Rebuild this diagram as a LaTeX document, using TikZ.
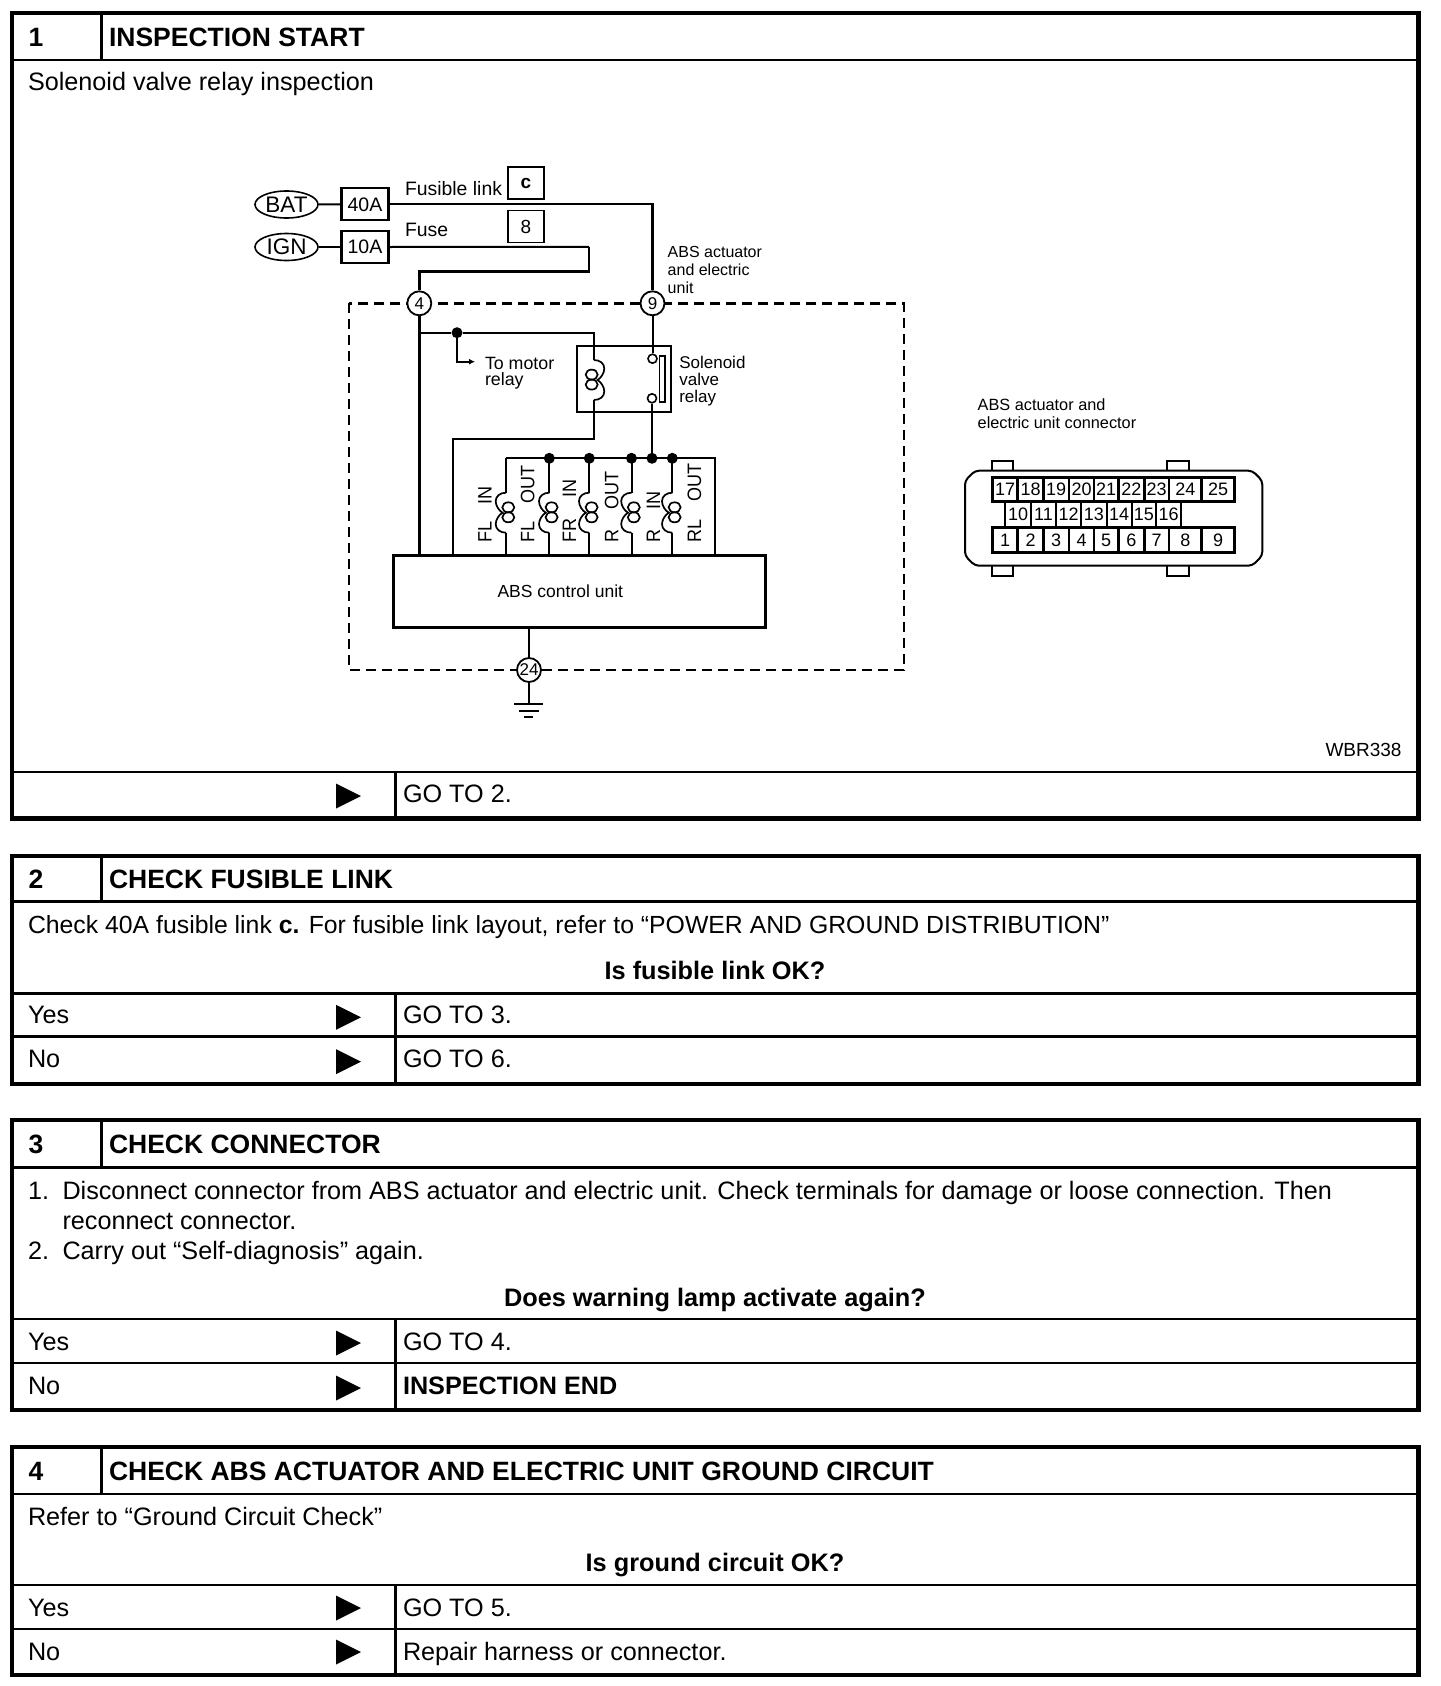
\documentclass[tikz,border=0pt]{standalone}
\usepackage{fontspec}
\setmainfont{Liberation Sans}
\usetikzlibrary{shapes.geometric,arrows.meta}
\newcommand\fs[1]{\fontsize{#1}{#1}\selectfont}
\newcommand\fsl[2]{\fontsize{#1}{#2}\selectfont}
\newcommand\vtxt[1]{\scalebox{1}[1.08]{#1}}
\tikzset{
  txt/.style={anchor=base west,inner sep=0pt,outer sep=0pt,font=\fs{25.2}},
  hd/.style={anchor=base west,inner sep=0pt,outer sep=0pt,font=\fs{26.5}\bfseries},
  ctr/.style={anchor=base,inner sep=0pt,outer sep=0pt,font=\fs{25.3}\bfseries},
  lab/.style={anchor=north west,inner sep=0pt,outer sep=0pt,align=left},
  vlab/.style={rotate=90,anchor=base west,inner sep=0pt,outer sep=0pt,font=\fs{18}},
  frameline/.style={line width=4.2pt,draw=black},
  rule/.style={line width=2.5pt,draw=black},
  wire/.style={line width=2pt,draw=black},
  fatwire/.style={line width=2.8pt,draw=black},
  term/.style={circle,draw,fill=white,line width=1.8pt,minimum size=24pt,inner sep=0pt,font=\fs{17}},
  pinhole/.style={circle,draw,fill=white,line width=1.6pt,minimum size=9pt,inner sep=0pt},
  src/.style={ellipse,draw,line width=1.6pt,minimum width=63pt,minimum height=27pt,inner sep=0pt,font=\fs{22.5}},
  fuse/.style={rectangle,draw,line width=2.2pt,minimum width=47pt,minimum height=32pt,inner sep=0pt,font=\fs{19.5}},
  tag/.style={rectangle,draw,line width=1.8pt,minimum width=36pt,minimum height=32pt,inner sep=0pt,font=\fs{19}},
  jn/.style={circle,fill=black,minimum size=11pt,inner sep=0pt},
  bound/.style={line width=2.4pt,draw=black,dash pattern=on 10pt off 6pt},
}
\newcommand\card[7]{% key, top, titleline, bottom, number, title, baseline
  \draw[frameline] (12,#2) rectangle (1418.5,#4);
  \draw[rule] (14,#3) -- (1416.5,#3);
  \draw[line width=3pt] (101.3,#2) -- (101.3,#3);
  \node[hd] (num#1) at (28.5,#7) {#5};
  \node[hd] (title#1) at (109,#7) {#6};
}
\newcommand\goline[2]{% y, bottom
  \draw[rule] (14,#1) -- (1416.5,#1);
  \draw[rule] (395.3,#1) -- (395.3,#2);
}
\newcommand\choice[5]{% key, label, baseline, arrow centre y, target
  \node[txt] (lab#1) at (28,#3) {#2};
  \fill (336,#4-12.5) -- (361,#4) -- (336,#4+12.5) -- cycle;
  \node[txt] (go#1) at (403,#3) {#5};
}
\newcommand\coil[3]{%
  \begin{scope}[shift={(#1,#2)},xscale=#3]
  \draw[line width=1.7pt] (0,0) .. controls (6,0) and (10.3,3.5) .. (10.3,8.5) .. controls (10.3,13) and (7,18) .. (3.5,20) .. controls (7,22) and (10.3,27) .. (10.3,31.5) .. controls (10.3,36.5) and (6,40) .. (0,40);
  \draw[line width=1.7pt] (-2.3,14.6) ellipse [x radius=6,y radius=5];
  \draw[line width=1.7pt] (-2.3,24.6) ellipse [x radius=6,y radius=5];
  \end{scope}}
\begin{document}
\begin{tikzpicture}[x=1pt,y=-1pt]
\useasboundingbox (0,0) rectangle (1440,1686);
\fill[white] (0,0) rectangle (1440,1686);

% ---------- card 1
\card{a}{13}{60}{818.5}{1}{INSPECTION START}{47}
\node[txt] (ta) at (28,90) {Solenoid valve relay inspection};
\goline{772}{817}
\choice{a}{}{802}{796}{GO TO 2.}
\node[txt,font=\fs{19}] (wbr) at (1325.5,756.5) {WBR338};

% ---------- schematic
\draw[bound] (349,303.3) rectangle (904,670);
\node[src] (bat) at (286.5,204.5) {BAT};
\node[src] (ign) at (286.5,247) {IGN};
\node[fuse] (f40) at (365,204.3) {40A};
\node[fuse,line width=2.6pt] (f10) at (365,247) {10A};
\node[tag] (tc) at (526,183) {\raisebox{-1.5pt}{\textbf{c}}};
\node[tag] (t8) at (526,226.5) {8};
\node[txt,font=\fs{19.4}] (lfl) at (405,195) {Fusible link};
\node[txt,font=\fs{19.4}] (lfu) at (405,236) {Fuse};
\node[lab,font=\fsl{16}{18}] (lact) at (667.7,246.5) {ABS actuator\\and electric\\unit};
\node[term] (c4) at (419.3,303.3) {4};
\node[term] (c9) at (652.5,303.3) {9};
\node[term] (c24) at (529,670) {24};
\draw[wire] (bat) -- (f40);
\draw[wire] (ign) -- (f10);
\draw[line width=2.2pt] (f40.east) -| (c9.north);
\coordinate (b1) at (589,246.8);
\coordinate (b2) at (589,271.7);
\draw[wire] (f10.east) -- (b1);
\draw[fatwire] (b1) -- (b2) -| (c4.north);

% relay
\node[rectangle,draw,line width=1.8pt,minimum width=94.3pt,minimum height=66pt,inner sep=0pt] (relay) at (623.85,379) {};
\node[pinhole] (k1) at (652.5,358.7) {};
\node[pinhole] (k2) at (652,398.3) {};
\node[rectangle,draw,line width=1.6pt,minimum width=5.4pt,minimum height=46pt,inner sep=0pt] (plate) at (662,379) {};
\node[lab,font=\fsl{17}{17}] (lsol) at (679.3,355.7) {Solenoid\\valve\\relay};
\node[lab,font=\fsl{17.8}{16.5}] (lmot) at (485,357) {To motor\\relay};

% ABS box
\node[rectangle,draw,line width=3pt,minimum width=372.4pt,minimum height=71.6pt,inner sep=0pt] (abs) at (579.5,591.5) {};
\node[anchor=base,inner sep=0pt,font=\fs{17.5}] (labs) at (560.3,597.7) {ABS control unit};
\draw[fatwire] (c4.south) -- (c4.south |- abs.north);
\coordinate (tee) at (419.3,332.7);
\node[jn] (j0) at (457,332.7) {};
\coordinate (cT) at (594,360);
\coordinate (cB) at (594,400);
\coordinate (cL) at (594,439.3);
\coordinate (cM) at (452.7,439.3);
\coordinate (motor) at (475,361.7);
\draw[wire] (tee) -- (j0) -- (594,332.7) -- (cT);
\coil{594}{360}{1}
\draw[wire] (cB) -- (cL) -- (cM) -- (cM |- abs.north);
\draw[wire,-{Latex[length=6pt,width=6pt]}] (j0) |- (motor);
\draw[wire] (c9.south) -- (k1.north);
\draw[wire] (c24.north) -- (c24.north |- abs.south);

% bus and coils
\coordinate (busL) at (506,458.3);
\coordinate (busR) at (715,458.3);
\draw[wire] (busL) -- (busR) -- (busR |- abs.north);
\foreach \x in {506,549.3,589.3,631.5,672.3}{
  \draw[wire] (\x,458.3) -- (\x,492.7);
  \coil{\x}{492.7}{-1}
  \draw[wire] (\x,532.7) -- (\x,555.7);
}
\foreach \x/\n in {549.3/j1,589.3/j2,631.5/j3,652/j4,672.3/j5}{
  \node[jn] (\n) at (\x,458.3) {};
}
\draw[wire] (k2.south) -- (j4);
\node[vlab] (v1) at (491.7,542.7) {\vtxt{FL\hspace{17pt}IN}};
\node[vlab] (v2) at (534.3,542.7) {\vtxt{FL\hspace{18pt}OUT}};
\node[vlab] (v3) at (576,542.7) {\vtxt{FR\hspace{21pt}IN}};
\node[vlab] (v4) at (618.3,542.7) {\vtxt{R\hspace{20pt}OUT}};
\node[vlab] (v5) at (660,542.7) {\vtxt{R\hspace{20pt}IN}};
\node[vlab] (v6) at (701,542.7) {\vtxt{RL\hspace{18pt}OUT}};

% ground
\coordinate (gnd) at (529,704.3);
\draw[wire] (c24.south) -- (gnd);
\draw[wire] (514.3,704.3) -- (542.7,704.3);
\draw[wire] (519,710.7) -- (539,710.7);
\draw[wire] (524.3,716.7) -- (533.3,716.7);

% ---------- connector
\node[lab,font=\fsl{16.3}{18}] (lcon) at (977.7,399) {ABS actuator and\\electric unit connector};
\draw[line width=2pt,rounded corners=4pt] (975,470.7) -- (1252.3,470.7) -- (1262.3,480.7) -- (1262.3,555.7) -- (1252.3,565.7) -- (975,565.7) -- (965,555.7) -- (965,480.7) -- cycle;
\foreach \a/\b in {992.3/1013.3,1167.3/1189}{
  \draw[line width=2pt] (\a,470.7) -- (\a,460.7) -- (\b,460.7) -- (\b,470.7);
  \draw[line width=2pt] (\a,565.7) -- (\a,575.7) -- (\b,575.7) -- (\b,565.7);
}
\foreach \a/\b/\t in {992.3/1017.7/17,1017.7/1043.3/18,1043.3/1069/19,1069/1094/20,1094/1118.3/21,1118.3/1144.3/22,1144.3/1169/23,1169/1201.7/24,1201.7/1234.3/25}{
  \draw[line width=2.6pt] (\a,477.7) rectangle (\b,501.7);
  \node[inner sep=0pt,font=\fs{18}] (p\t) at ({(\a+\b)/2},489.7) {\t};
}
\foreach \a/\b/\t in {1005/1031/10,1031/1056/11,1056/1081/12,1081/1106.7/13,1106.7/1131.7/14,1131.7/1156/15,1156/1181/16}{
  \draw[line width=2pt] (\a,501.7) rectangle (\b,527.3);
  \node[inner sep=0pt,font=\fs{18}] (p\t) at ({(\a+\b)/2},514.5) {\t};
}
\foreach \a/\b/\t in {992.3/1017.7/1,1017.7/1043.3/2,1043.3/1069/3,1069/1094/4,1094/1118.3/5,1118.3/1144.3/6,1144.3/1169/7,1169/1201.7/8,1201.7/1234.3/9}{
  \draw[line width=2.6pt] (\a,527.3) rectangle (\b,552.7);
  \node[inner sep=0pt,font=\fs{18}] (p\t) at ({(\a+\b)/2},540) {\t};
}

% ---------- card 2
\card{b}{855.7}{901.7}{1083.7}{2}{CHECK FUSIBLE LINK}{888}
\node[txt,font=\fs{24.8}] (tb) at (28,933) {Check 40A fusible link \textbf{c.} For fusible link layout, refer to “POWER AND GROUND DISTRIBUTION”};
\node[ctr] (qb) at (715,979) {Is fusible link OK?};
\goline{993.3}{1082}
\draw[rule] (14,1036.7) -- (1416.5,1036.7);
\choice{b1}{Yes}{1023}{1017.3}{GO TO 3.}
\choice{b2}{No}{1067}{1061.7}{GO TO 6.}

% ---------- card 3
\card{c}{1120}{1167.5}{1410}{3}{CHECK CONNECTOR}{1153}
\node[txt] (tc1n) at (28,1199) {1.};
\node[txt] (tc1) at (62.5,1199) {Disconnect connector from ABS actuator and electric unit. Check terminals for damage or loose connection. Then};
\node[txt] (tc1b) at (62.5,1229) {reconnect connector.};
\node[txt] (tc2n) at (28,1259) {2.};
\node[txt] (tc2) at (62.5,1259) {Carry out “Self-diagnosis” again.};
\node[ctr] (qc) at (715,1306) {Does warning lamp activate again?};
\goline{1319}{1408}
\draw[rule] (14,1363) -- (1416.5,1363);
\choice{c1}{Yes}{1350}{1343}{GO TO 4.}
\choice{c2}{No}{1394}{1388}{\textbf{INSPECTION END}}

% ---------- card 4
\card{d}{1447}{1494}{1675}{4}{CHECK ABS ACTUATOR AND ELECTRIC UNIT GROUND CIRCUIT}{1480}
\node[txt] (td) at (28,1525) {Refer to “Ground Circuit Check”};
\node[ctr] (qd) at (715,1571) {Is ground circuit OK?};
\goline{1585}{1673}
\draw[rule] (14,1629) -- (1416.5,1629);
\choice{d1}{Yes}{1616}{1608}{GO TO 5.}
\choice{d2}{No}{1660}{1652}{Repair harness or connector.}
\end{tikzpicture}
\end{document}
